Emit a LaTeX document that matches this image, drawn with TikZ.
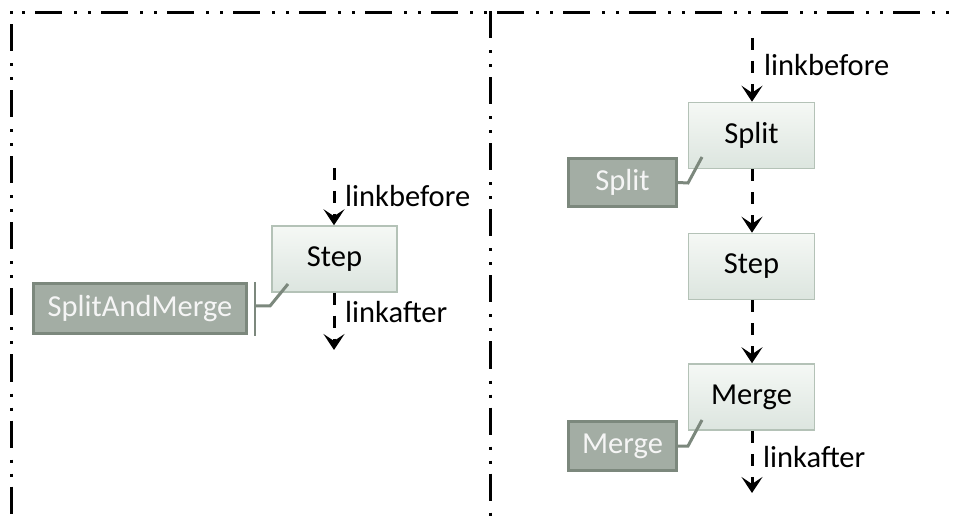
\documentclass[tikz,border=0pt]{standalone}
\usepackage{fontspec}
\setmainfont{Carlito}
\usetikzlibrary{arrows.meta,calc}
\definecolor{boxtop}{HTML}{F5F8F5}
\definecolor{boxbot}{HTML}{DCE5DF}
\definecolor{boxline}{HTML}{B4C2B7}
\definecolor{lblfill}{HTML}{A3ADA4}
\definecolor{lblline}{HTML}{7C887D}
\begin{document}
\begin{tikzpicture}[x=1pt,y=-1pt,
  borderline/.style={line width=3pt, black, dash pattern=on 27pt off 12pt on 3pt off 11pt on 3pt off 10pt},
  stepbox/.style={draw=boxline, line width=1.5pt, top color=boxtop, bottom color=boxbot,
     minimum width=125pt, minimum height=66pt, inner sep=0pt, font=\fontsize{30.5}{36}\selectfont, text=black},
  lblbox/.style={draw=lblline, line width=3pt, fill=lblfill, inner sep=0pt,
     font=\fontsize{30.5}{36}\selectfont, text=white!96!black},
  flow/.style={line width=3pt, black, dash pattern=on 12pt off 11pt,
     -{Stealth[length=16pt,width=21pt,inset=7pt]}},
  conn/.style={line width=3pt, lblline},
  lab/.style={anchor=base west, inner sep=0pt, font=\fontsize{30.5}{36}\selectfont}]
\useasboundingbox (0,0) rectangle (958,518);

% panel borders
\coordinate (tl) at (11,13);
\coordinate (tr) at (958,13);
\coordinate (lt) at (11,11.5);
\coordinate (lb) at (11,518);
\coordinate (mt) at (490,11.5);
\coordinate (mb) at (490,518);
\draw[borderline, dash phase=42pt] (tl) -- (tr);
\draw[borderline, dash phase=53pt] (lt) -- (lb);
\draw[borderline] (mt) -- (mb);

% left panel
\node[stepbox] (stepL) at (334.5,259) {Step};
\node[lblbox, minimum width=213pt, minimum height=50pt] (samL) at (140,308.5) {SplitAndMerge};
\coordinate (lbtop) at (334,168);
\coordinate (labot) at (334,350);
\draw[flow] (lbtop) -- (stepL.north -| lbtop);
\draw[flow] (stepL.south -| labot) -- (labot);
\node[lab] (lbL) at (345,207) {linkbefore};
\node[lab] (laL) at (345,323) {linkafter};
\coordinate (brT) at (255,282);
\coordinate (brB) at (255,336);
\coordinate (brM) at (255,306);
\coordinate (brK) at (270,306);
\coordinate (brE) at (288,284);
\draw[line width=2.5pt, lblline] (brT) -- (brB);
\draw[conn] (brM) -- (brK) -- (brE);

% right panel
\node[stepbox, minimum width=126pt] (splitR) at (751.5,135.5) {Split};
\node[stepbox, minimum width=126pt] (stepR) at (751.5,266.5) {Step};
\node[stepbox, minimum width=126pt] (mergeR) at (751.5,397) {Merge};
\node[lblbox, minimum width=108pt, minimum height=48pt] (splitLbl) at (622.5,182.5) {Split};
\node[lblbox, minimum width=108pt, minimum height=49pt] (mergeLbl) at (622.5,446) {Merge};

\coordinate (rtop) at (752,38);
\coordinate (rbot) at (752,493);
\draw[flow] (rtop) -- (splitR.north -| rtop);
\draw[flow] (splitR.south -| rtop) -- (stepR.north -| rtop);
\draw[flow] (stepR.south -| rtop) -- (mergeR.north -| rtop);
\draw[flow] (mergeR.south -| rbot) -- (rbot);
\node[lab] (lbR) at (764,76) {linkbefore};
\node[lab] (laR) at (763,467) {linkafter};

\coordinate (sK) at (688,183);
\coordinate (sE) at (702,157);
\draw[conn] (splitLbl.east) -- (sK) -- (sE);
\coordinate (mK) at (688,446);
\coordinate (mE) at (702,420);
\draw[conn] (mergeLbl.east) -- (mK) -- (mE);
\end{tikzpicture}
\end{document}
